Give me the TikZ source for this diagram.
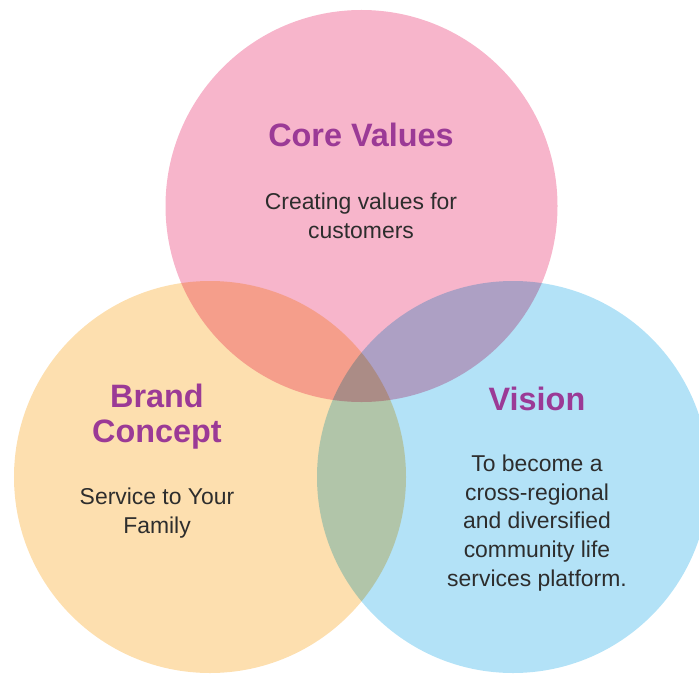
\documentclass[tikz,border=0pt]{standalone}
\usepackage{fontspec}
\setmainfont{Liberation Sans}
\usetikzlibrary{positioning}
\definecolor{CorePink}{RGB}{247,181,203}
\definecolor{BrandSand}{RGB}{253,223,175}
\definecolor{VisionSky}{RGB}{179,226,247}
\definecolor{TitlePurple}{RGB}{155,58,150}
\definecolor{BodyGray}{RGB}{45,45,45}

\begin{document}
\begin{tikzpicture}[x=1bp,y=-1bp,
  title/.style={font=\bfseries\fontsize{32.5}{35}\selectfont,text=TitlePurple,align=center,inner sep=0pt},
  body/.style={font=\fontsize{23}{29}\selectfont,text=BodyGray,align=center,inner sep=0pt}]
  \useasboundingbox (0,0) rectangle (699,674);
  \clip (0,0) rectangle (699,674);
  % the three sets, overlaps come from multiply blending
  \begin{scope}[blend group=multiply]
    \fill[CorePink] (361.5,206) circle[radius=196bp];
    \fill[BrandSand] (210,477) circle[radius=196bp];
    \fill[VisionSky] (513,477) circle[radius=196bp];
  \end{scope}
  \node[title] (coretitle) at (361,135) {Core Values};
  \node[body] (coretext) at (361,216) {Creating values for\\customers};
  \node[title] (brandtitle) at (157,417) {Brand\\Concept};
  \node[body] (brandtext) at (157,513) {Service to Your\\Family};
  \node[title] (visiontitle) at (537,399) {Vision};
  \node[body] (visiontext) at (537,523) {To become a\\cross-regional\\and diversified\\community life\\services platform.};
\end{tikzpicture}
\end{document}
